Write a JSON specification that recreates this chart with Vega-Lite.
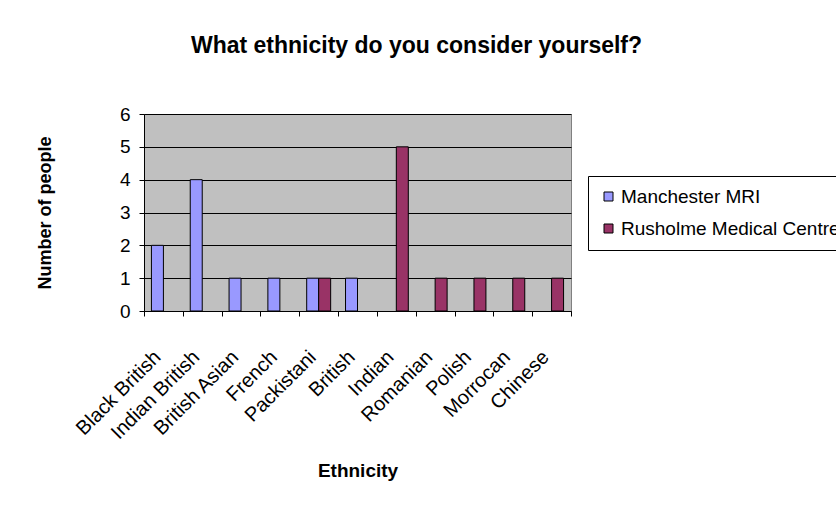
{
  "$schema": "https://vega.github.io/schema/vega-lite/v6.json",
  "width": 427,
  "height": 197,
  "autosize": {"type": "none"},
  "padding": {"left": 144, "top": 114, "right": 265, "bottom": 195},
  "background": "white",
  "title": {
    "text": "What ethnicity do you consider yourself?",
    "font": "Liberation Sans",
    "fontSize": 23,
    "fontWeight": "bold",
    "color": "black",
    "anchor": "middle",
    "frame": "group",
    "dx": 59,
    "baseline": "alphabetic",
    "offset": 29
  },
  "data": {
    "values": [
      {"ethnicity": "Black British", "site": "Manchester MRI", "count": 2},
      {"ethnicity": "Indian British", "site": "Manchester MRI", "count": 4},
      {"ethnicity": "British Asian", "site": "Manchester MRI", "count": 1},
      {"ethnicity": "French", "site": "Manchester MRI", "count": 1},
      {"ethnicity": "Packistani", "site": "Manchester MRI", "count": 1},
      {"ethnicity": "Packistani", "site": "Rusholme Medical Centre", "count": 1},
      {"ethnicity": "British", "site": "Manchester MRI", "count": 1},
      {"ethnicity": "Indian", "site": "Rusholme Medical Centre", "count": 5},
      {"ethnicity": "Romanian", "site": "Rusholme Medical Centre", "count": 1},
      {"ethnicity": "Polish", "site": "Rusholme Medical Centre", "count": 1},
      {"ethnicity": "Morrocan", "site": "Rusholme Medical Centre", "count": 1},
      {"ethnicity": "Chinese", "site": "Rusholme Medical Centre", "count": 1}
    ]
  },
  "mark": {"type": "bar", "stroke": "black", "strokeWidth": 1},
  "encoding": {
    "x": {
      "field": "ethnicity",
      "type": "nominal",
      "sort": null,
      "scale": {"paddingInner": 0, "paddingOuter": 0},
      "axis": {
        "title": "Ethnicity",
        "titleFont": "Liberation Sans",
        "titleFontSize": 19,
        "titleFontWeight": "bold",
        "titleColor": "black",
        "titleY": 165,
        "titleBaseline": "alphabetic",
        "labelAngle": -45,
        "labelAlign": "right",
        "labelBaseline": "alphabetic",
        "labelPadding": 42,
        "labelOffset": -2,
        "labelFont": "Liberation Sans",
        "labelFontSize": 20,
        "labelColor": "black",
        "labelOverlap": false,
        "labelLimit": 300,
        "tickBand": "extent",
        "tickSize": 5,
        "tickColor": "black",
        "domainColor": "black",
        "grid": false
      }
    },
    "xOffset": {
      "field": "site",
      "type": "nominal",
      "sort": ["Manchester MRI", "Rusholme Medical Centre"],
      "scale": {"paddingInner": 0, "paddingOuter": 0.62}
    },
    "y": {
      "field": "count",
      "type": "quantitative",
      "scale": {"domain": [0, 6], "nice": false},
      "axis": {
        "title": "Number of people",
        "titleFont": "Liberation Sans",
        "titleFontSize": 18,
        "titleFontWeight": "bold",
        "titleColor": "black",
        "titleX": -99,
        "titleY": 98.5,
        "titleAngle": -90,
        "titleAlign": "center",
        "titleBaseline": "middle",
        "values": [0, 1, 2, 3, 4, 5, 6],
        "labelFont": "Liberation Sans",
        "labelFontSize": 19,
        "labelColor": "black",
        "labelPadding": 9,
        "tickSize": 5,
        "tickColor": "black",
        "domainColor": "black",
        "grid": true,
        "gridColor": "black",
        "gridOpacity": 1
      }
    },
    "color": {
      "field": "site",
      "type": "nominal",
      "scale": {"domain": ["Manchester MRI", "Rusholme Medical Centre"], "range": ["#9999FF", "#993366"]},
      "legend": {
        "title": null,
        "orient": "none",
        "legendX": 444,
        "legendY": 62,
        "labelFont": "Liberation Sans",
        "labelFontSize": 19,
        "labelColor": "black",
        "labelLimit": 400,
        "symbolType": "square",
        "symbolSize": 81,
        "symbolStrokeColor": "black",
        "symbolStrokeWidth": 1,
        "symbolOpacity": 1,
        "strokeColor": "black",
        "fillColor": "white",
        "padding": 11,
        "rowPadding": 12,
        "labelOffset": 3
      }
    }
  },
  "config": {
    "view": {"fill": "#C0C0C0", "stroke": "#808080"},
    "axis": {"domainWidth": 1, "tickWidth": 1, "gridWidth": 1}
  }
}
